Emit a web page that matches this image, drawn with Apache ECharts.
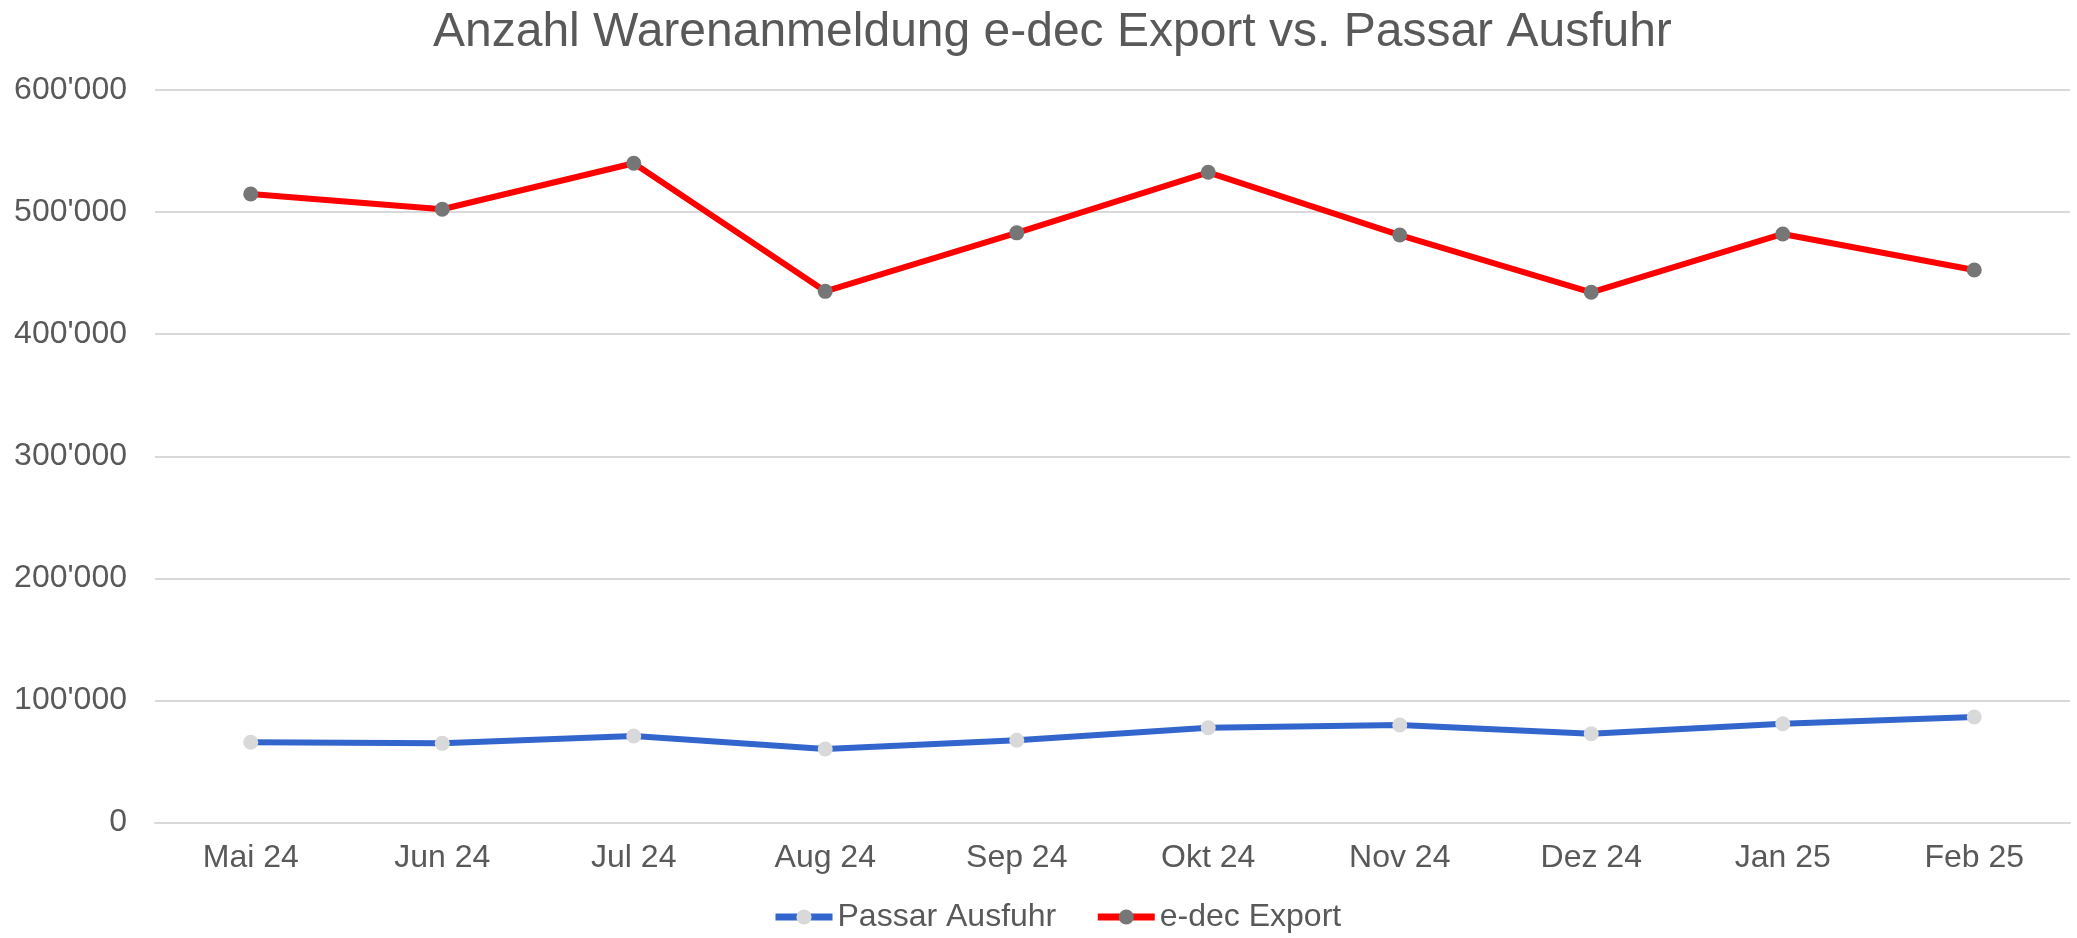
<!DOCTYPE html>
<html>
<head>
<meta charset="utf-8">
<script src="https://cdn.jsdelivr.net/npm/echarts@6/dist/echarts.min.js"></script>
<style>html,body{margin:0;padding:0;background:#fff;}#c{width:2077px;height:938px;}</style>
</head>
<body>
<div id="c"></div>
<script>
const categories = ['Mai 24','Jun 24','Jul 24','Aug 24','Sep 24','Okt 24','Nov 24','Dez 24','Jan 25','Feb 25'];
const passarAusfuhr = [65800, 64900, 70900, 60300, 67400, 77700, 79900, 72800, 81000, 86500];
const edecExport = [514800, 502300, 540000, 435100, 483000, 532600, 481200, 434300, 482100, 452600];
const titleText = 'Anzahl Warenanmeldung e-dec Export vs. Passar Ausfuhr';
const seriesNames = ['Passar Ausfuhr', 'e-dec Export'];

function fmt(v){ return String(Math.round(v)).replace(/\B(?=(\d{3})+(?!\d))/g, "'"); }

const chart = echarts.init(document.getElementById('c'));
chart.setOption({
  animation: false,
  backgroundColor: '#ffffff',
  textStyle: { fontFamily: 'Liberation Sans, Arial, sans-serif' },
  title: {
    text: titleText, left: 428, top: 4,
    textStyle: { fontFamily: 'Liberation Sans, Arial, sans-serif', fontSize: 48, fontWeight: 'normal', color: '#595959' }
  },
  legend: {
    bottom: 5, left: 772, padding: 0, itemWidth: 57, itemHeight: 19, itemGap: 38,
    lineStyle: { width: 7 },
    textStyle: { fontSize: 32, color: '#595959', fontFamily: 'Liberation Sans, Arial, sans-serif' },
    data: seriesNames
  },
  grid: { left: 155, right: 7, top: 90, bottom: 115.4, containLabel: false },
  xAxis: {
    type: 'category', data: categories, boundaryGap: true,
    axisLine: { lineStyle: { color: '#D9D9D9', width: 2 } },
    axisTick: { show: false },
    axisLabel: { fontSize: 32, color: '#595959', margin: 20 }
  },
  yAxis: {
    type: 'value', min: 0, max: 600000, interval: 100000,
    axisLine: { show: false }, axisTick: { show: false },
    splitLine: { lineStyle: { color: '#D9D9D9', width: 2 } },
    axisLabel: { fontSize: 32, color: '#595959', margin: 28, formatter: fmt }
  },
  series: [
    {
      name: seriesNames[0], type: 'line', data: passarAusfuhr,
      lineStyle: { color: '#3366CC', width: 6 },
      itemStyle: { color: '#D9D9D9', borderWidth: 0 },
      symbol: 'circle', symbolSize: 15
    },
    {
      name: seriesNames[1], type: 'line', data: edecExport,
      lineStyle: { color: '#FF0000', width: 6 },
      itemStyle: { color: '#767676', borderWidth: 0 },
      symbol: 'circle', symbolSize: 15
    }
  ]
});
</script>
</body>
</html>
